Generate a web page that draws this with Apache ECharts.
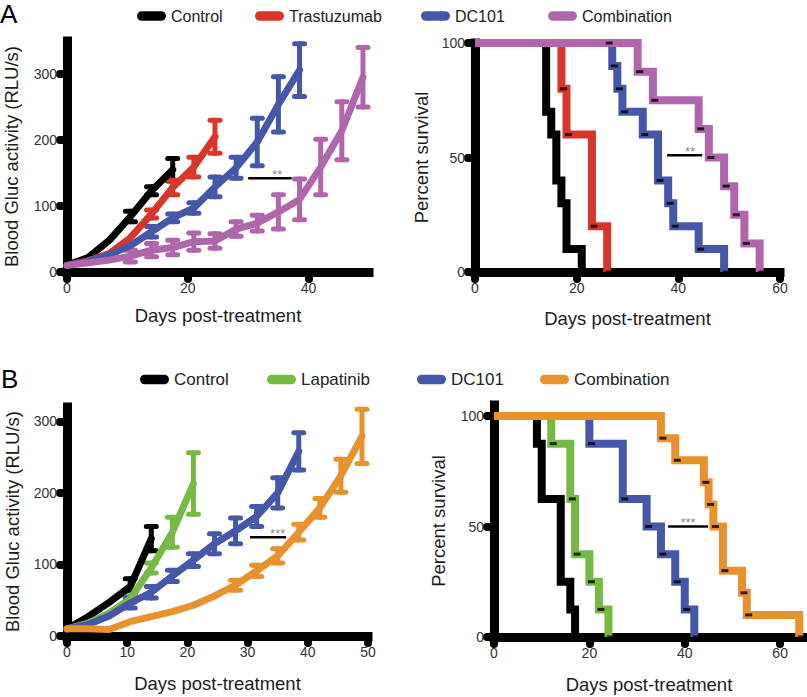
<!DOCTYPE html>
<html>
<head>
<meta charset="utf-8">
<title>Tumour growth and survival</title>
<script src="https://cdn.jsdelivr.net/npm/echarts@6/dist/echarts.min.js"></script>
<style>
  html, body { margin: 0; padding: 0; background: #fff; }
  #main { width: 807px; height: 697px; }
</style>
</head>
<body>
<div id="main"></div>
<script>
// measurement days (twice weekly)
var growthDays = [0, 3.5, 7, 10.5, 14, 17.5, 21, 24.5, 28, 31.5, 35, 38.5, 42, 45.5, 49];

// A, left: blood Gluc activity, mean and error
var aControlMean = [10, 22, 48, 84, 123, 155];
var aControlErr  = [0, 0, 0, 8, 6, 17];
var aTrastMean   = [10, 17, 28, 52, 88, 128, 159, 205];
var aTrastErr    = [0, 0, 0, 0, 6, 11, 15, 25];
var aDc101Mean   = [10, 16, 26, 40, 61, 82, 97, 129, 158, 197, 254, 306];
var aDc101Err    = [0, 0, 0, 0, 8, 6, 8, 15, 16, 36, 42, 40];
var aComboMean   = [10, 14, 18, 24, 33, 37, 46, 47, 65, 74, 91, 110, 159, 214, 295];
var aComboErr    = [0, 0, 0, 9, 10, 11, 13, 11, 11, 12, 26, 31, 42, 44, 45];

// B, left
var bControlMean = [10, 27, 47, 69, 136];
var bControlErr  = [0, 0, 0, 11, 17];
var bLapatMean   = [10, 18, 32, 52, 95, 145, 213];
var bLapatErr    = [0, 0, 0, 5, 7, 21, 43];
var bDc101Mean   = [10, 16, 28, 46, 61, 84, 106, 129, 147, 167, 200, 258];
var bDc101Err    = [0, 0, 0, 7, 8, 8, 9, 14, 18, 14, 21, 26];
var bComboMean   = [10, 10, 9, 20, 27, 34, 43, 56, 71, 91, 112, 145, 179, 224, 279];
var bComboErr    = [0, 0, 0, 0, 0, 0, 0, 0, 7, 8, 10, 11, 13, 23, 38];

// A, right: percent survival (day of each step)
var aSurvControlDays = [0, 14, 15, 16, 17, 18, 21];
var aSurvControlPct  = [100, 70, 60, 40, 30, 10, 0];
var aSurvTrastDays   = [0, 17, 18, 23, 26];
var aSurvTrastPct    = [100, 80, 60, 20, 0];
var aSurvDc101Days   = [0, 27, 28, 29, 33, 36, 38, 39, 44, 49];
var aSurvDc101Pct    = [100, 90, 80, 70, 60, 40, 30, 20, 10, 0];
var aSurvComboDays   = [0, 32, 35, 44, 46, 49, 51, 53, 56];
var aSurvComboPct    = [100, 87.5, 75, 62.5, 50, 37.5, 25, 12.5, 0];
var aDc101Censor     = [[26, 100]];

// B, right
var bSurvControlDays = [0, 9, 10, 14, 16, 17];
var bSurvControlPct  = [100, 87.5, 62.5, 25, 12.5, 0];
var bSurvLapatDays   = [0, 12, 16, 17, 20, 22, 24];
var bSurvLapatPct    = [100, 87.5, 62.5, 37.5, 25, 12.5, 0];
var bSurvDc101Days   = [0, 20, 27, 32, 35, 38, 40, 42];
var bSurvDc101Pct    = [100, 87.5, 62.5, 50, 37.5, 25, 12.5, 0];
var bSurvComboDays   = [0, 35, 38, 44, 45, 46, 48, 52, 53, 64];
var bSurvComboPct    = [100, 90, 80, 70, 60, 50, 30, 20, 10, 0];

// significance bars: [from, to, level, text position]
var sigA1 = [30, 37.2, 142, 34.8];
var sigA2 = [37.8, 44.7, 51, 42.3];
var sigB1 = [30.4, 36.4, 138, 35];
var sigB2 = [36.5, 44.9, 50, 40.7];

var growthTicksA = [0, 20, 40];
var growthTicksB = [0, 10, 20, 30, 40, 50];
var survTicksX = [0, 20, 40, 60];
var growthTicksY = [0, 100, 200, 300];
var survTicksY = [0, 50, 100];

var FONT = '"Liberation Sans", Arial, Helvetica, sans-serif';
var COL = {
    black: '#000000', red: '#d9362b', blue: '#4757a8',
    purple: '#b066aa', green: '#78b946', orange: '#e8912f'
};

var myChart = echarts.init(document.getElementById('main'), null, {renderer: 'svg'});

function errorBar(params, api) {
    var e = api.value(2);
    if (!e) return;
    var top = api.coord([api.value(0), api.value(1) + e]);
    var bot = api.coord([api.value(0), api.value(1) - e]);
    var st = {stroke: api.visual('color'), lineWidth: 5, lineCap: 'round'};
    return {
        type: 'group',
        children: [
            {type: 'line', shape: {x1: top[0], y1: top[1], x2: bot[0], y2: bot[1]}, style: st},
            {type: 'line', shape: {x1: top[0] - 5, y1: top[1], x2: top[0] + 5, y2: top[1]}, style: st},
            {type: 'line', shape: {x1: bot[0] - 5, y1: bot[1], x2: bot[0] + 5, y2: bot[1]}, style: st}
        ]
    };
}

function growth(name, color, mean, err, gi) {
    var pts = mean.map(function (v, i) { return [growthDays[i], v]; });
    var bars = mean.map(function (v, i) { return [growthDays[i], v, err[i]]; });
    return [
        {
            name: name, type: 'line', xAxisIndex: gi, yAxisIndex: gi, data: pts,
            symbol: 'none', clip: false, silent: true,
            itemStyle: {color: color},
            lineStyle: {color: color, width: 7, join: 'round', cap: 'round'}
        },
        {
            type: 'custom', xAxisIndex: gi, yAxisIndex: gi, data: bars, clip: false, silent: true,
            itemStyle: {color: color}, renderItem: errorBar
        }
    ];
}

function survival(name, color, days, pct, gi, extra) {
    var pts = days.map(function (d, i) { return [d, pct[i]]; });
    return [
        {
            name: name, type: 'line', step: 'end', xAxisIndex: gi, yAxisIndex: gi, data: pts,
            symbol: 'none', clip: false, silent: true,
            itemStyle: {color: color},
            lineStyle: {color: color, width: 8, join: 'miter'}
        },
        {
            type: 'scatter', xAxisIndex: gi, yAxisIndex: gi, z: 3, clip: false, silent: true,
            data: pts.slice(1).concat(extra || []),
            symbol: 'rect', symbolSize: [7, 3], symbolOffset: [2, 0], itemStyle: {color: '#000'}
        }
    ];
}

function sig(bar, text, gi) {
    return {
        type: 'custom', xAxisIndex: gi, yAxisIndex: gi, z: 4, clip: false, silent: true,
        data: [bar],
        renderItem: function (params, api) {
            var a = api.coord([api.value(0), api.value(2)]);
            var b = api.coord([api.value(1), api.value(2)]);
            var t = api.coord([api.value(3), api.value(2)]);
            return {
                type: 'group',
                children: [
                    {type: 'line', shape: {x1: a[0], y1: a[1], x2: b[0], y2: b[1]},
                     style: {stroke: '#000', lineWidth: 2.5}},
                    {type: 'text', style: {text: text, x: t[0], y: t[1] - 4, fill: '#8a8a8a',
                     font: '13px ' + FONT, align: 'center', verticalAlign: 'middle'}}
                ]
            };
        }
    };
}

var tickDot = {length: 7, lineStyle: {color: '#000', width: 8, cap: 'round'}};
var axisLn = {onZero: false, lineStyle: {color: '#000', width: 9, cap: 'square'}};

function xAx(gi, max, ticks, gap) {
    return {
        type: 'value', gridIndex: gi, min: 0, max: max,
        name: 'Days post-treatment', nameLocation: 'middle', nameGap: gap, nameMoveOverlap: false,
        nameTextStyle: {fontSize: 18.5, color: '#1c1c1c', fontFamily: FONT},
        axisLine: axisLn,
        axisTick: {length: tickDot.length, lineStyle: tickDot.lineStyle, customValues: ticks},
        axisLabel: {customValues: ticks, fontSize: 14, color: '#333', margin: 9, fontFamily: FONT},
        splitLine: {show: false}
    };
}

function yAx(gi, max, ticks, name, gap) {
    return {
        type: 'value', gridIndex: gi, min: 0, max: max,
        name: name, nameLocation: 'middle', nameGap: gap, nameMoveOverlap: false,
        nameTextStyle: {fontSize: 18.5, color: '#1c1c1c', fontFamily: FONT},
        axisLine: axisLn,
        axisTick: {length: tickDot.length, lineStyle: tickDot.lineStyle, customValues: ticks},
        axisLabel: {customValues: ticks, fontSize: 14, color: '#333', margin: 10, fontFamily: FONT},
        splitLine: {show: false}
    };
}

var pill = 'path://M5,0 H25 A5,5 0 0 1 25,10 H5 A5,5 0 0 1 5,0 Z';
function leg(name, color, left, top, size) {
    return {
        left: left, top: top, padding: 0, itemGap: 0, selectedMode: false,
        icon: pill, itemWidth: 29, itemHeight: 10,
        textStyle: {fontSize: size, color: '#222', fontFamily: FONT},
        data: [{name: name, itemStyle: {color: color, borderColor: color, borderWidth: 0}}]
    };
}

var series = [].concat(
    growth('Control', COL.black, aControlMean, aControlErr, 0),
    growth('Trastuzumab', COL.red, aTrastMean, aTrastErr, 0),
    growth('DC101', COL.blue, aDc101Mean, aDc101Err, 0),
    growth('Combination', COL.purple, aComboMean, aComboErr, 0),
    [sig(sigA1, '**', 0)],
    survival('Control', COL.black, aSurvControlDays, aSurvControlPct, 1),
    survival('Trastuzumab', COL.red, aSurvTrastDays, aSurvTrastPct, 1),
    survival('DC101', COL.blue, aSurvDc101Days, aSurvDc101Pct, 1, aDc101Censor),
    survival('Combination', COL.purple, aSurvComboDays, aSurvComboPct, 1),
    [sig(sigA2, '**', 1)],
    growth('Control', COL.black, bControlMean, bControlErr, 2),
    growth('Lapatinib', COL.green, bLapatMean, bLapatErr, 2),
    growth('DC101', COL.blue, bDc101Mean, bDc101Err, 2),
    growth('Combination', COL.orange, bComboMean, bComboErr, 2),
    [sig(sigB1, '***', 2)],
    survival('Control', COL.black, bSurvControlDays, bSurvControlPct, 3),
    survival('Lapatinib', COL.green, bSurvLapatDays, bSurvLapatPct, 3),
    survival('DC101', COL.blue, bSurvDc101Days, bSurvDc101Pct, 3),
    survival('Combination', COL.orange, bSurvComboDays, bSurvComboPct, 3),
    [sig(sigB2, '***', 3)]
);

var option = {
    animation: false,
    backgroundColor: '#fff',
    title: [
        {text: 'A', left: 0, top: 1, padding: 0, textStyle: {fontSize: 26, fontWeight: 'normal', color: '#000', fontFamily: FONT}},
        {text: 'B', left: 1, top: 366, padding: 0, textStyle: {fontSize: 26, fontWeight: 'normal', color: '#000', fontFamily: FONT}}
    ],
    legend: [
        leg('Control', COL.black, 137, 8, 16),
        leg('Trastuzumab', COL.red, 255, 8, 16),
        leg('DC101', COL.blue, 421, 8, 16),
        leg('Combination', COL.purple, 548, 8, 16),
        leg('Control', COL.black, 140, 371, 17),
        leg('Lapatinib', COL.green, 267, 371, 17),
        leg('DC101', COL.blue, 417, 371, 17),
        leg('Combination', COL.orange, 540, 371, 17)
    ],
    grid: [
        {left: 67, top: 41, width: 302, height: 231, outerBoundsMode: 'none'},
        {left: 475, top: 43, width: 305, height: 229, outerBoundsMode: 'none'},
        {left: 67, top: 407, width: 301, height: 229, outerBoundsMode: 'none'},
        {left: 494, top: 405, width: 310, height: 232, outerBoundsMode: 'none'}
    ],
    xAxis: [
        xAx(0, 50, growthTicksA, 34),
        xAx(1, 60, survTicksX, 37),
        xAx(2, 50, growthTicksB, 38),
        xAx(3, 65, survTicksX, 38)
    ],
    yAxis: [
        yAx(0, 350, growthTicksY, 'Blood Gluc activity (RLU/s)', 46),
        yAx(1, 100, survTicksY, 'Percent survival', 44),
        yAx(2, 320, growthTicksY, 'Blood Gluc activity (RLU/s)', 45),
        yAx(3, 105, survTicksY, 'Percent survival', 46)
    ],
    series: series
};

myChart.setOption(option);
</script>
</body>
</html>
